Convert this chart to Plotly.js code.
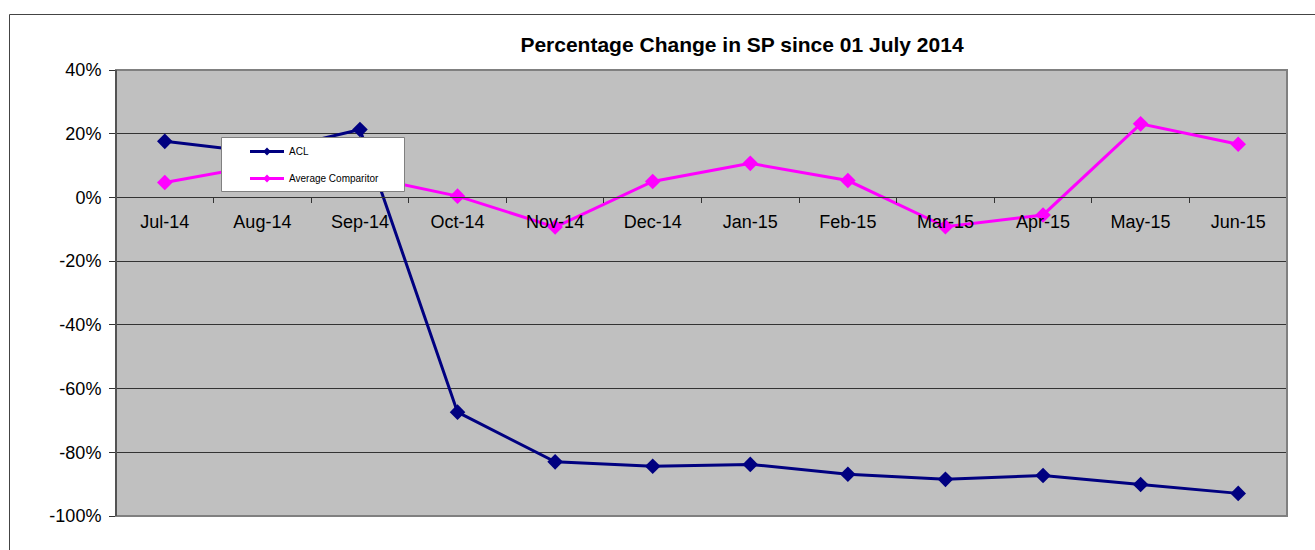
<!DOCTYPE html>
<html>
<head>
<meta charset="utf-8">
<script src="https://cdn.plot.ly/plotly-3.0.1.min.js"></script>
<style>
html,body{margin:0;padding:0;background:#fff;}
#chart{width:1315px;height:550px;}
</style>
</head>
<body>
<div id="chart"></div>
<script>
const categories = ["Jul-14","Aug-14","Sep-14","Oct-14","Nov-14","Dec-14","Jan-15","Feb-15","Mar-15","Apr-15","May-15","Jun-15"];
const aclValues = [0.176, 0.14, 0.213, -0.674, -0.830, -0.844, -0.838, -0.869, -0.885, -0.873, -0.901, -0.929];
const avgValues = [0.047, 0.102, 0.069, 0.004, -0.093, 0.050, 0.107, 0.053, -0.092, -0.055, 0.231, 0.167];
const seriesNames = ["ACL", "Average Comparitor"];
const seriesColors = ["#000080", "#FF00FF"];
const yTickVals = [0.4, 0.2, 0, -0.2, -0.4, -0.6, -0.8, -1.0];
const yTickText = ["40%", "20%", "0%", "-20%", "-40%", "-60%", "-80%", "-100%"];

const L = 116, R = 1287, T = 70, B = 516;
const W = R - L, H = B - T;
const px = x => (x - L) / W;
const py = y => (B - y) / H;

const font = "Liberation Sans, Arial, sans-serif";

const traces = [
  {x: categories, y: aclValues, name: seriesNames[0], type: "scatter", mode: "lines+markers",
   line: {color: seriesColors[0], width: 3}, marker: {symbol: "diamond", size: 12, color: seriesColors[0]},
   showlegend: false, hoverinfo: "skip"},
  {x: categories, y: avgValues, name: seriesNames[1], type: "scatter", mode: "lines+markers",
   line: {color: seriesColors[1], width: 3}, marker: {symbol: "diamond", size: 12, color: seriesColors[1]},
   showlegend: false, hoverinfo: "skip"},
  {x: [categories[0]], y: [null], name: seriesNames[0], type: "scatter", mode: "lines+markers",
   line: {color: seriesColors[0], width: 3}, marker: {symbol: "diamond", size: 6, color: seriesColors[0]},
   legendgroup: "a", showlegend: true},
  {x: [categories[0]], y: [null], name: seriesNames[1], type: "scatter", mode: "lines+markers",
   line: {color: seriesColors[1], width: 3}, marker: {symbol: "diamond", size: 6, color: seriesColors[1]},
   legendgroup: "b", showlegend: true}
];

const layout = {
  width: 1315, height: 550,
  margin: {l: L, r: 1315 - R, t: T, b: 550 - B},
  paper_bgcolor: "#ffffff",
  plot_bgcolor: "#c0c0c0",
  font: {family: font, color: "#000", size: 18},
  title: {text: "Percentage Change in SP since 01 July 2014", font: {family: font, size: 21, color: "#000", weight: "bold"},
          x: 742/1315, xref: "container", xanchor: "center", y: 1 - 45/550, yref: "container", yanchor: "middle"},
  xaxis: {type: "category", categoryorder: "array", categoryarray: categories,
          anchor: "free", position: py(197.4), range: [-0.5, 11.5],
          showgrid: false, showline: true, linecolor: "#333", linewidth: 1,
          ticks: "outside", tickson: "boundaries", ticklen: 5, tickcolor: "#333",
          tickfont: {size: 18, family: font, color: "#000"}, ticklabelstandoff: 8, zeroline: false},
  yaxis: {range: [-1.0, 0.4], tickvals: yTickVals, ticktext: yTickText,
          showgrid: true, gridcolor: "#333", gridwidth: 1, zeroline: false,
          showline: true, linecolor: "#444", linewidth: 1,
          ticks: "outside", ticklen: 6, tickcolor: "#333",
          tickfont: {size: 18, family: font, color: "#000"}, ticklabelstandoff: 4},
  legend: {x: px(221), y: py(137), xanchor: "left", yanchor: "top",
           bgcolor: "rgba(0,0,0,0)", borderwidth: 0, font: {size: 10, family: font, color: "#000"},
           traceorder: "grouped", tracegroupgap: 8, indentation: 24, itemwidth: 34},
  shapes: [
    {type: "rect", xref: "paper", yref: "paper", x0: 0, x1: 1, y0: 0, y1: 1,
     line: {color: "#808080", width: 2}, layer: "above", fillcolor: "rgba(0,0,0,0)"},
    {type: "line", xref: "paper", yref: "paper", x0: 0, x1: 0, y0: 0, y1: 1,
     line: {color: "#444", width: 1.5}, layer: "above"},
    {type: "rect", xref: "paper", yref: "paper", x0: px(221.5), x1: px(404.5), y0: py(191.5), y1: py(137.5),
     line: {color: "#808080", width: 1}, fillcolor: "#ffffff", layer: "above"},
    {type: "rect", xref: "paper", yref: "paper", x0: px(9.5), x1: px(1330), y0: py(560), y1: py(14.5),
     line: {color: "#444", width: 1}, fillcolor: "rgba(0,0,0,0)", layer: "above"}
  ]
};

Plotly.newPlot("chart", traces, layout, {staticPlot: true, displayModeBar: false});
</script>
</body>
</html>
